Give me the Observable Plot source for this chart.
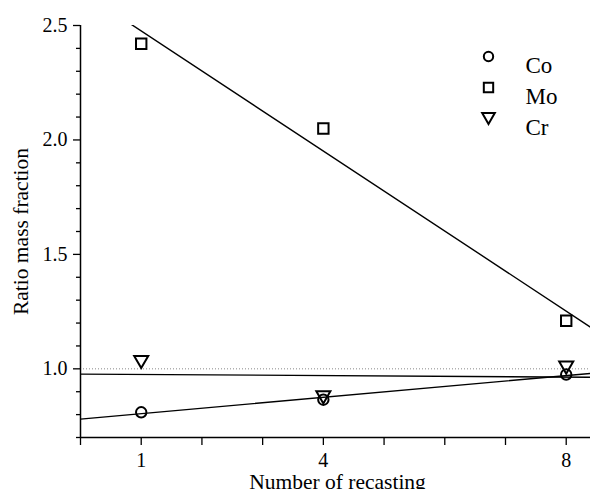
<!DOCTYPE html>
<html><head><meta charset="utf-8">
<script src="https://cdn.jsdelivr.net/npm/d3@7"></script>
<script src="https://cdn.jsdelivr.net/npm/@observablehq/plot@0.6"></script>
<style>body{margin:0;background:#fff}</style>
</head><body><div id="chart"></div>
<script>
// ---- data ----
const recasting = [1, 4, 8];
const co = [0.81, 0.865, 0.975];
const mo = [2.42, 2.05, 1.21];
const cr = [1.03, 0.875, 1.005];
const seriesNames = ["Co", "Mo", "Cr"];
const xTicks = [0, 1, 2, 3, 4, 5, 6, 7, 8];
const xTickLabels = [1, 4, 8];
const yMajor = [1.0, 1.5, 2.0, 2.5];
const yMinor = [0.7, 0.8, 0.9, 1.1, 1.2, 1.3, 1.4, 1.6, 1.7, 1.8, 1.9, 2.1, 2.2, 2.3, 2.4];
const xDomain = [0, 8.4];
const yDomain = [0.7, 2.5];
const refValue = [1.0];
const xTitle = "Number of recasting";
const yTitle = "Ratio mass fraction";

// ---- helpers ----
function fit(xs, ys) {
  const mx = d3.mean(xs), my = d3.mean(ys);
  let sxy = 0, sxx = 0;
  xs.forEach((x, i) => { sxy += (x - mx) * (ys[i] - my); sxx += (x - mx) ** 2; });
  const slope = sxy / sxx, intercept = my - slope * mx;
  return xDomain.map(x => ({x, y: intercept + slope * x}));
}
const toRows = ys => recasting.map((x, i) => ({x, y: ys[i]}));

const circleSym = {draw(ctx, size) { const r = Math.sqrt(size / Math.PI); ctx.moveTo(r, 0); ctx.arc(0, 0, r, 0, 2 * Math.PI); ctx.closePath(); }};
const squareSym = {draw(ctx, size) { const r = Math.sqrt(size / Math.PI); const s = r; ctx.rect(-s, -s, 2 * s, 2 * s); }};
const triDownSym = {draw(ctx, size) {
  const r = Math.sqrt(size / Math.PI); const a = r * 2.6, h = a * Math.sqrt(3) / 2;
  ctx.moveTo(-a / 2, -h / 2); ctx.lineTo(a / 2, -h / 2); ctx.lineTo(0, h / 2); ctx.closePath();
}};
const symbols = [circleSym, squareSym, triDownSym];
const radii = [5.2, 5.2, 5.4];
const values = [co, mo, cr];

const marks = [
  Plot.ruleY(refValue, {stroke: "#888", strokeWidth: 1, strokeDasharray: "1,2"}),
];
values.forEach((ys, i) => {
  marks.push(Plot.line(fit(recasting, ys), {x: "x", y: "y", stroke: "black", strokeWidth: 1.4, clip: true}));
});
values.forEach((ys, i) => {
  marks.push(Plot.dot(toRows(ys), {x: "x", y: "y", symbol: symbols[i], r: radii[i], stroke: "black", strokeWidth: 2, fill: "none"}));
});
// legend
seriesNames.forEach((name, i) => {
  marks.push(Plot.dot([name], {frameAnchor: "top-right", dx: -102, dy: 31 + 31 * i, symbol: symbols[i], r: radii[i] * 0.9, stroke: "black", strokeWidth: 2, fill: "none"}));
  marks.push(Plot.text([name], {text: d => d, frameAnchor: "top-right", dx: -65, dy: 31 + 31 * i, textAnchor: "start", fontSize: 23, fill: "black"}));
});
// axes
marks.push(
  Plot.axisY(yMajor, {tickSize: 7, tickPadding: 6, fontSize: 20, tickFormat: d3.format(".1f"), strokeWidth: 1.3, label: null}),
  Plot.axisY(yMinor, {tickSize: 4, text: null, label: null, strokeWidth: 1.3}),
  Plot.axisX(xTicks, {tickSize: 8, tickPadding: 7.5, fontSize: 20, strokeWidth: 1.3,
    tickFormat: d => xTickLabels.includes(d) ? String(d) : "", label: null}),
  Plot.text([xTitle], {text: d => d, frameAnchor: "bottom", dx: 2, dy: 51, textAnchor: "middle", lineAnchor: "bottom", fontSize: 21.5, fill: "black"}),
  Plot.text([yTitle], {text: d => d, frameAnchor: "left", dx: -68, rotate: -90, textAnchor: "middle", lineAnchor: "top", fontSize: 21.5, fill: "black"}),
  Plot.ruleX([xDomain[0]], {stroke: "black", strokeWidth: 1.5}),
  Plot.ruleY([yDomain[0]], {stroke: "black", strokeWidth: 1.5})
);

const chart = Plot.plot({
  width: 590, height: 489,
  marginLeft: 80, marginRight: 0, marginTop: 25, marginBottom: 52,
  style: {fontFamily: "Liberation Serif", fontSize: "21px", background: "white", color: "black", overflow: "visible"},
  x: {domain: xDomain},
  y: {domain: yDomain},
  marks
});
document.getElementById("chart").appendChild(chart);
</script>
</body></html>
